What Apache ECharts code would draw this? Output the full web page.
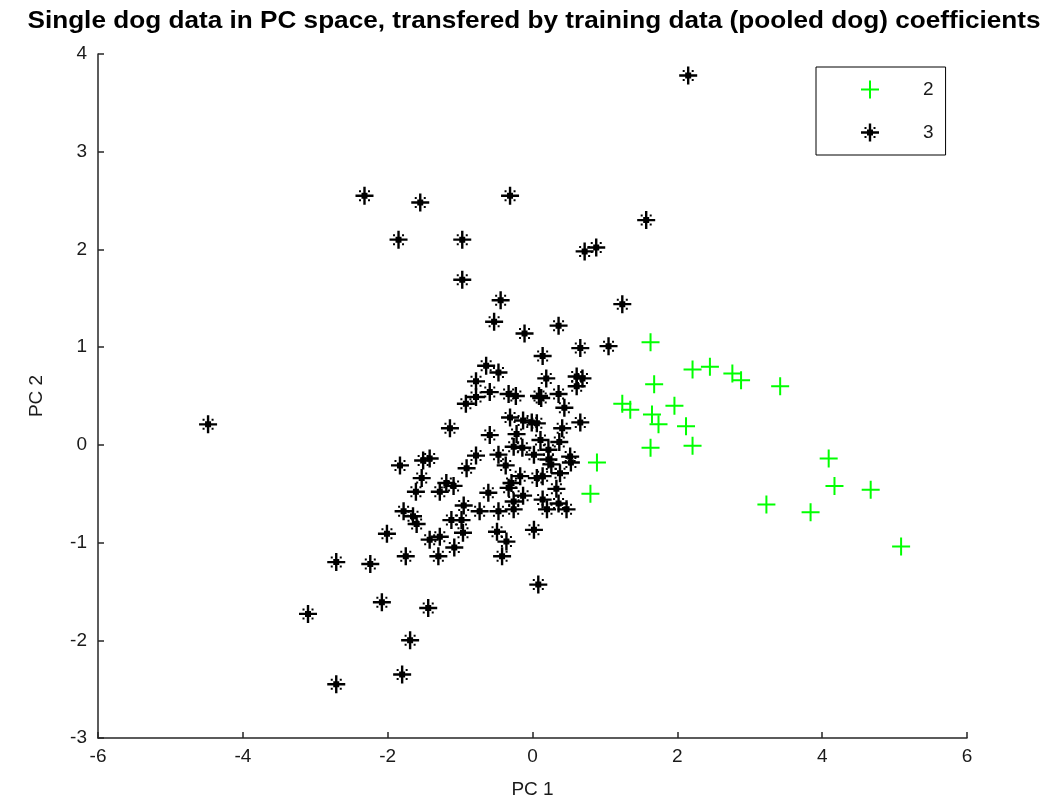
<!DOCTYPE html>
<html>
<head>
<meta charset="utf-8">
<script src="https://cdn.jsdelivr.net/npm/echarts@6/dist/echarts.min.js"></script>
<style>
  html, body { margin: 0; padding: 0; background: #fff; }
  #chart { width: 1054px; height: 808px; }
</style>
</head>
<body>
<div id="chart"></div>
<script>
// Group "2" scores (PC 1, PC 2)
const group2 = [
  [1.63, 1.05], [2.21, 0.77], [2.45, 0.80], [2.76, 0.73], [2.88, 0.66],
  [3.42, 0.60], [1.68, 0.62], [1.24, 0.42], [1.35, 0.36], [1.65, 0.31],
  [1.96, 0.40], [1.74, 0.21], [2.12, 0.19], [1.63, -0.03], [2.21, -0.01],
  [0.89, -0.18], [0.80, -0.50], [4.09, -0.14], [4.17, -0.42], [4.67, -0.46],
  [3.23, -0.61], [3.84, -0.69], [5.09, -1.04]
];

// Group "3" scores (PC 1, PC 2)
const group3 = [
  [2.15, 3.78],
  [-2.32, 2.55], [-1.55, 2.48], [-0.31, 2.55], [-1.85, 2.10], [-0.97, 2.10],
  [1.57, 2.30], [0.72, 1.98], [0.88, 2.02], [-0.97, 1.69],
  [-0.44, 1.48], [1.24, 1.44], [-0.53, 1.26], [-0.11, 1.14], [0.36, 1.22],
  [0.14, 0.91], [0.66, 0.99], [1.05, 1.01],
  [-0.64, 0.81], [-0.47, 0.74], [-0.78, 0.65], [0.19, 0.68], [0.61, 0.70],
  [0.69, 0.68], [0.61, 0.60],
  [-0.59, 0.54], [-0.33, 0.52], [-0.23, 0.50], [0.09, 0.50], [0.12, 0.48],
  [0.36, 0.52], [-0.78, 0.49], [-0.92, 0.42], [0.44, 0.38],
  [-0.31, 0.28], [-0.13, 0.25], [-0.01, 0.23], [0.06, 0.22], [0.41, 0.17],
  [0.66, 0.23], [-1.14, 0.17],
  [-0.59, 0.10], [-0.22, 0.11], [0.11, 0.05], [0.37, 0.03], [-0.26, -0.02],
  [-0.14, -0.03], [0.22, -0.05],
  [-0.47, -0.10], [-0.78, -0.11], [0.02, -0.10], [-1.42, -0.14], [-1.51, -0.16],
  [0.52, -0.12],
  [-4.48, 0.21],
  [-1.83, -0.21], [-0.91, -0.24], [0.22, -0.15], [0.26, -0.20], [0.53, -0.18],
  [-0.37, -0.21], [0.38, -0.29], [-1.53, -0.34], [-0.17, -0.32], [0.06, -0.34],
  [0.14, -0.32], [-0.29, -0.39], [-0.33, -0.44], [-0.13, -0.52], [0.33, -0.45],
  [-1.19, -0.39], [-1.09, -0.42], [-1.28, -0.48], [-1.61, -0.48], [-0.61, -0.49],
  [0.14, -0.56], [-0.26, -0.58], [0.36, -0.60], [0.47, -0.66], [0.20, -0.66],
  [-0.26, -0.66], [-0.47, -0.68], [-0.73, -0.68], [-1.78, -0.68], [-1.65, -0.73],
  [-1.60, -0.81], [-0.95, -0.62], [-1.12, -0.77], [-0.98, -0.77], [-0.96, -0.90],
  [-2.01, -0.91], [-1.42, -0.97], [-1.28, -0.94], [-1.08, -1.05], [-0.49, -0.89],
  [-0.36, -0.99], [-0.42, -1.14], [0.02, -0.87], [-1.75, -1.14], [-1.30, -1.14],
  [0.08, -1.43], [-1.44, -1.67], [-2.08, -1.61],
  [-2.71, -1.20], [-2.24, -1.22], [-3.10, -1.73], [-1.69, -2.00], [-1.80, -2.35],
  [-2.71, -2.45]
];

const seriesNames = ['2', '3'];
const xRange = [-6, 6];
const yRange = [-3, 4];
const titleText = 'Single dog data in PC space, transfered by training data (pooled dog) coefficients';

// Marker shapes: a thin plus, and an asterisk (plus with short diagonal dots)
const plusPath = 'path://M0,8 L18,8 L18,10 L0,10 Z M8,0 L10,0 L10,18 L8,18 Z';
const starPath = 'path://M0,7.8 L18,7.8 L18,10.2 L0,10.2 Z M7.8,0 L10.2,0 L10.2,18 L7.8,18 Z ' +
  'M6,6 L12,6 L12,12 L6,12 Z ' +
  'M3.5,3.5 L5.5,3.5 L5.5,5.5 L3.5,5.5 Z M12.5,3.5 L14.5,3.5 L14.5,5.5 L12.5,5.5 Z ' +
  'M3.5,12.5 L5.5,12.5 L5.5,14.5 L3.5,14.5 Z M12.5,12.5 L14.5,12.5 L14.5,14.5 L12.5,14.5 Z';

const axisColor = '#262626';
const labelFont = { color: '#1a1a1a', fontFamily: 'Liberation Sans, Arial, sans-serif', fontSize: 19 };

const chart = echarts.init(document.getElementById('chart'), null, { renderer: 'canvas' });

chart.setOption({
  animation: false,
  backgroundColor: '#ffffff',
  graphic: [{
    type: 'text',
    x: 534,
    y: 9,
    scaleX: 1.09,
    style: {
      text: titleText,
      align: 'center',
      verticalAlign: 'top',
      fontFamily: 'Liberation Sans, Arial, sans-serif',
      fontWeight: 'bold',
      fontSize: 24,
      fill: '#000'
    }
  }],
  grid: { left: 98, right: 87, top: 54, bottom: 70 },
  legend: {
    orient: 'vertical',
    left: 816,
    top: 67,
    padding: [13, 12, 13, 45],
    itemGap: 24,
    itemWidth: 20,
    itemHeight: 18,
    borderColor: '#000',
    borderWidth: 1,
    backgroundColor: '#fff',
    data: [
      { name: seriesNames[0], icon: plusPath },
      { name: seriesNames[1], icon: starPath }
    ],
    textStyle: Object.assign({}, labelFont, { padding: [0, 0, 0, 38] })
  },
  xAxis: {
    type: 'value',
    min: xRange[0],
    max: xRange[1],
    interval: 2,
    name: 'PC 1',
    nameLocation: 'middle',
    nameGap: 42,
    nameTextStyle: labelFont,
    axisLine: { show: true, onZero: false, lineStyle: { color: axisColor, width: 1.5 } },
    axisTick: { show: true, inside: true, length: 6, lineStyle: { color: axisColor, width: 1.5 } },
    axisLabel: Object.assign({ margin: 9 }, labelFont),
    splitLine: { show: false }
  },
  yAxis: {
    type: 'value',
    min: yRange[0],
    max: yRange[1],
    interval: 1,
    name: 'PC 2',
    nameLocation: 'middle',
    nameGap: 52,
    nameTextStyle: labelFont,
    axisLine: { show: true, onZero: false, lineStyle: { color: axisColor, width: 1.5 } },
    axisTick: { show: true, inside: true, length: 6, lineStyle: { color: axisColor, width: 1.5 } },
    axisLabel: Object.assign({ margin: 11 }, labelFont),
    splitLine: { show: false }
  },
  series: [
    {
      name: seriesNames[0],
      type: 'scatter',
      data: group2,
      symbol: plusPath,
      symbolSize: 18,
      itemStyle: { color: '#00ff00', opacity: 1 },
      z: 3
    },
    {
      name: seriesNames[1],
      type: 'scatter',
      data: group3,
      symbol: starPath,
      symbolSize: 18,
      itemStyle: { color: '#000000', opacity: 1 },
      z: 2
    }
  ]
});
</script>
</body>
</html>
